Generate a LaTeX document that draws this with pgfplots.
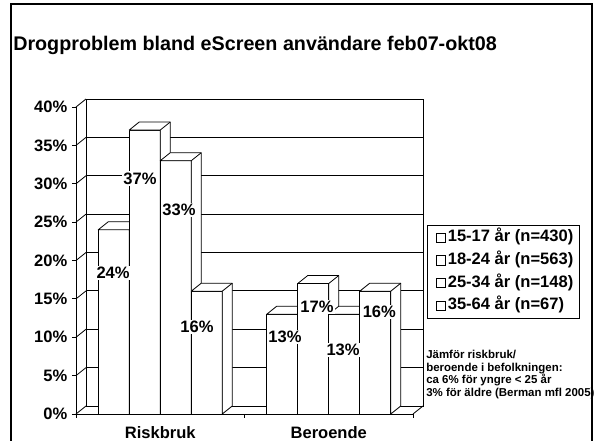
\documentclass[border=0pt]{standalone}
\usepackage{fontspec}
\setmainfont{Liberation Sans}
\usepackage{pgfplots}
\usepackage{pgfplotstable}
\pgfplotsset{compat=1.18}

% values in percent: rows = categories, columns = age groups
\pgfplotstableread{
grp a b c d
0.5 24 37 33 16
1.5 13 17 13 16
}\datatable

\def\bw{0.184}
\def\ddx{0.0593}
\def\ddy{1.042}

% top + right side face of a 3D bar, value read from the table
\newcommand\barcap[3]{%
  \pgfplotstablegetelem{#1}{#2}\of\datatable
  \pgfmathsetmacro\va{\pgfplotsretval}%
  \pgfmathsetmacro\vb{\va+\ddy}%
  \pgfmathsetmacro\xa{#3}%
  \pgfmathsetmacro\xb{#3+\ddx}%
  \pgfmathsetmacro\xc{#3+\bw}%
  \pgfmathsetmacro\xd{#3+\bw+\ddx}%
  \edef\temp{\noexpand\addplot[draw=black, fill=white, line width=0.6pt, line join=round, forget plot]
     coordinates {(\xa,\va) (\xb,\vb) (\xd,\vb) (\xd,\ddy) (\xc,0) (\xc,\va)} -- cycle;
   \noexpand\addplot[draw=black, line width=0.6pt, forget plot] coordinates {(\xc,\va) (\xd,\vb)};}%
  \temp
}

\newcommand\bigf{\bfseries\fontsize{12.4}{14}\selectfont}

\begin{document}
\begin{tikzpicture}
\useasboundingbox (0pt,0pt) rectangle (447pt,330.75pt);
\begin{axis}[
  at={(57pt,20.25pt)}, anchor=south west,
  scale only axis, width=252.75pt, height=230.25pt,
  xmin=0, xmax=2, ymin=0, ymax=40,
  clip=false,
  axis x line=bottom, axis y line=left,
  axis line style={-, line width=0.6pt},
  tick align=outside,
  major tick length=3pt,
  tick style={black, line width=0.6pt},
  xtick={0,1,2}, xticklabels={},
  extra x ticks={0.5,1.5},
  extra x tick labels={Riskbruk,Beroende},
  extra x tick style={major tick length=0pt, xticklabel style={yshift=-5.5pt}},
  ytick={0,5,10,15,20,25,30,35,40},
  yticklabels={0\%,5\%,10\%,15\%,20\%,25\%,30\%,35\%,40\%},
  tick label style={font=\bigf},
  legend style={at={(1.0415,0.6156)}, anchor=north west, draw=black, line width=0.6pt,
    font=\bigf, inner xsep=3pt, inner ysep=2pt, row sep=2.6pt,
    nodes={inner sep=1.5pt, text height=8.8pt, text depth=2.6pt}},
  legend cell align=left,
  barst/.style={ybar, bar width=\bw, fill=white, draw=black, line width=0.6pt,
    legend image code/.code={\path (0pt,0pt); \draw[black, fill=white, line width=0.5pt] (3.5pt,-3.4pt) rectangle (10.3pt,3.4pt);}},
]
% walls and floor
\draw[line width=0.6pt] (axis cs:\ddx,\ddy) rectangle (axis cs:2+\ddx,40+\ddy);
\pgfplotsinvokeforeach{5,10,15,20,25,30,35}{
  \draw[line width=0.6pt] (axis cs:\ddx,#1+\ddy) -- (axis cs:2+\ddx,#1+\ddy);
}
\pgfplotsinvokeforeach{0,5,10,15,20,25,30,35,40}{
  \draw[line width=0.6pt] (axis cs:0,#1) -- (axis cs:\ddx,#1+\ddy);
}
\draw[line width=0.6pt] (axis cs:2,0) -- (axis cs:2+\ddx,\ddy);

% bars, left to right
\addplot[barst, bar shift=-0.276] table[x=grp, y=a] {\datatable};
\addlegendentry{15-17 år (n=430)}
\barcap{0}{a}{0.132}
\barcap{1}{a}{1.132}
\addplot[barst, bar shift=-0.092] table[x=grp, y=b] {\datatable};
\addlegendentry{18-24 år (n=563)}
\barcap{0}{b}{0.316}
\barcap{1}{b}{1.316}
\addplot[barst, bar shift=0.092] table[x=grp, y=c] {\datatable};
\addlegendentry{25-34 år (n=148)}
\barcap{0}{c}{0.5}
\barcap{1}{c}{1.5}
\addplot[barst, bar shift=0.276] table[x=grp, y=d] {\datatable};
\addlegendentry{35-64 år (n=67)}
\barcap{0}{d}{0.684}
\barcap{1}{d}{1.684}

% value labels
\tikzset{lbl/.style={fill=white, inner sep=1pt, font=\bigf}}
\node[lbl] at (axis cs:0.22,18.4) {24\%};
\node[lbl] at (axis cs:0.38,30.7) {37\%};
\node[lbl] at (axis cs:0.611,26.6) {33\%};
\node[lbl] at (axis cs:0.718,11.3) {16\%};
\node[lbl] at (axis cs:1.24,10.0) {13\%};
\node[lbl] at (axis cs:1.43,13.9) {17\%};
\node[lbl] at (axis cs:1.585,8.3) {13\%};
\node[lbl] at (axis cs:1.80,13.3) {16\%};
\end{axis}

\begin{scope}[shift={(0pt,330.75pt)}, x=0.75pt, y=-0.75pt]
\node[anchor=base west, inner sep=0pt, font=\bfseries\fontsize{14.8}{17}\selectfont] at (13,51)
  {Drogproblem bland eScreen användare feb07-okt08};
\node[anchor=north west, inner sep=0pt, align=left, font=\bfseries\fontsize{8.6}{9.5}\selectfont] at (426,350)
  {Jämför riskbruk/\\beroende i befolkningen:\\ca 6\% för yngre < 25 år\\3\% för äldre (Berman mfl 2005)};
\draw[line width=2pt] (11,4) rectangle (592,470);
\end{scope}
\end{tikzpicture}
\end{document}
